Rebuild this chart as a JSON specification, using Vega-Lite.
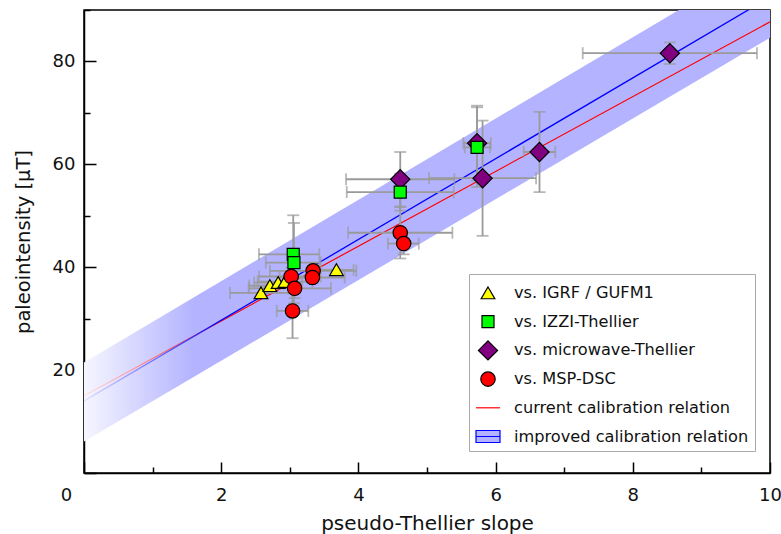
{
  "$schema": "https://vega.github.io/schema/vega-lite/v6.json",
  "width": 686,
  "height": 463,
  "autosize": {"type": "none"},
  "padding": {"left": 84, "top": 10, "right": 11, "bottom": 61},
  "background": "white",
  "config": {
    "font": "DejaVu Sans",
    "view": {"stroke": "black", "strokeWidth": 1.5},
    "axis": {
      "grid": false,
      "domainColor": "black",
      "domainWidth": 1.5,
      "tickColor": "black",
      "tickWidth": 1.5,
      "labelFont": "DejaVu Sans",
      "labelFontSize": 18,
      "labelColor": "#111111",
      "titleFont": "DejaVu Sans",
      "titleFontWeight": "normal",
      "titleColor": "#111111",
      "labelFlush": false,
      "labelOverlap": false,
      "labelBound": false
    },
    "legend": {
      "orient": "none",
      "legendX": 385,
      "legendY": 264,
      "padding": 6,
      "strokeColor": "#aaaaaa",
      "fillColor": "white",
      "labelFont": "DejaVu Sans",
      "labelFontSize": 16.2,
      "labelColor": "#111111",
      "labelLimit": 0,
      "symbolSize": 576,
      "symbolStrokeWidth": 1.2,
      "gridAlign": "all",
      "rowPadding": 3.7,
      "labelOffset": 13
    }
  },
  "datasets": {
    "pts": [
      {"series": "vs. IGRF / GUFM1", "x": 2.58, "y": 35.0, "xlo": 2.13, "xhi": 3.03, "ylo": 35.0, "yhi": 35.0},
      {"series": "vs. IGRF / GUFM1", "x": 2.71, "y": 36.4, "xlo": 2.41, "xhi": 3.01, "ylo": 36.4, "yhi": 36.4},
      {"series": "vs. IGRF / GUFM1", "x": 2.83, "y": 37.0, "xlo": 2.48, "xhi": 3.18, "ylo": 37.0, "yhi": 37.0},
      {"series": "vs. IGRF / GUFM1", "x": 2.93, "y": 37.2, "xlo": 2.53, "xhi": 3.33, "ylo": 37.2, "yhi": 37.2},
      {"series": "vs. IGRF / GUFM1", "x": 3.68, "y": 39.5, "xlo": 3.43, "xhi": 3.93, "ylo": 39.5, "yhi": 39.5},
      {"series": "vs. microwave-Thellier", "x": 8.54, "y": 81.6, "xlo": 7.27, "xhi": 9.81, "ylo": 79.5, "yhi": 83.7},
      {"series": "vs. microwave-Thellier", "x": 6.64, "y": 62.4, "xlo": 6.41, "xhi": 6.87, "ylo": 54.6, "yhi": 70.2},
      {"series": "vs. microwave-Thellier", "x": 5.81, "y": 57.3, "xlo": 5.03, "xhi": 6.59, "ylo": 46.1, "yhi": 68.5},
      {"series": "vs. microwave-Thellier", "x": 4.61, "y": 57.1, "xlo": 3.82, "xhi": 5.40, "ylo": 51.8, "yhi": 62.4},
      {"series": "vs. microwave-Thellier", "x": 5.73, "y": 64.1, "xlo": 5.53, "xhi": 5.93, "ylo": 56.8, "yhi": 71.4},
      {"series": "vs. IZZI-Thellier", "x": 3.05, "y": 42.5, "xlo": 2.55, "xhi": 3.43, "ylo": 34.9, "yhi": 50.1},
      {"series": "vs. IZZI-Thellier", "x": 3.06, "y": 40.9, "xlo": 2.65, "xhi": 3.45, "ylo": 33.0, "yhi": 48.6},
      {"series": "vs. IZZI-Thellier", "x": 4.61, "y": 54.6, "xlo": 3.83, "xhi": 5.39, "ylo": 51.0, "yhi": 58.2},
      {"series": "vs. IZZI-Thellier", "x": 5.73, "y": 63.3, "xlo": 5.55, "xhi": 5.92, "ylo": 55.6, "yhi": 71.1},
      {"series": "vs. MSP-DSC", "x": 4.61, "y": 46.7, "xlo": 3.85, "xhi": 5.37, "ylo": 41.7, "yhi": 51.7},
      {"series": "vs. MSP-DSC", "x": 4.66, "y": 44.6, "xlo": 4.43, "xhi": 4.88, "ylo": 42.5, "yhi": 46.7},
      {"series": "vs. MSP-DSC", "x": 3.34, "y": 39.3, "xlo": 2.71, "xhi": 3.97, "ylo": 38.3, "yhi": 40.3},
      {"series": "vs. MSP-DSC", "x": 3.33, "y": 38.0, "xlo": 2.85, "xhi": 3.80, "ylo": 37.0, "yhi": 39.0},
      {"series": "vs. MSP-DSC", "x": 3.02, "y": 38.2, "xlo": 2.55, "xhi": 3.45, "ylo": 36.5, "yhi": 39.9},
      {"series": "vs. MSP-DSC", "x": 3.07, "y": 35.9, "xlo": 2.40, "xhi": 3.60, "ylo": 34.0, "yhi": 37.8},
      {"series": "vs. MSP-DSC", "x": 3.04, "y": 31.5, "xlo": 2.81, "xhi": 3.27, "ylo": 26.2, "yhi": 36.8}
    ],
    "band": [
      {"x": 0, "lo": 6.1, "hi": 21.5},
      {"x": 10, "lo": 84.6, "hi": 100.5}
    ],
    "lines": [
      {"rel": "current", "x": 0, "y": 15.0},
      {"rel": "current", "x": 10, "y": 87.7},
      {"rel": "improved", "x": 0, "y": 14.0},
      {"rel": "improved", "x": 10, "y": 92.5}
    ]
  },
  "layer": [
    {
      "data": {"name": "band"},
      "mark": {
        "type": "area",
        "clip": true,
        "fill": {
          "gradient": "linear",
          "x1": 0, "y1": 0, "x2": 1, "y2": 0,
          "stops": [
            {"offset": 0, "color": "#f6f6ff"},
            {"offset": 0.16, "color": "#b3b3ff"},
            {"offset": 1, "color": "#b3b3ff"}
          ]
        }
      },
      "encoding": {
        "x": {
          "field": "x",
          "type": "quantitative",
          "title": "pseudo-Thellier slope",
          "scale": {"domain": [0, 10], "nice": false, "zero": false},
          "axis": {
            "title": "pseudo-Thellier slope",
            "titleFontSize": 20,
            "titlePadding": 4,
            "values": [0, 1, 2, 3, 4, 5, 6, 7, 8, 9, 10],
            "labelExpr": "datum.value % 2 === 0 ? '' + datum.value : ''",
            "tickSize": {"condition": {"test": "datum.value % 2 === 0", "value": -11}, "value": -6},
            "labelPadding": 24,
            "labelOffset": {"condition": {"test": "datum.value === 0", "value": -18}, "value": 0}
          }
        },
        "y": {
          "field": "lo",
          "type": "quantitative",
          "title": "paleointensity [µT]",
          "scale": {"domain": [0, 90], "nice": false, "zero": false},
          "axis": {
            "title": "paleointensity [µT]",
            "titleFontSize": 19.5,
            "titlePadding": 19,
            "values": [0, 10, 20, 30, 40, 50, 60, 70, 80, 90],
            "labelExpr": "datum.value % 20 === 0 && datum.value > 0 ? '' + datum.value : ''",
            "tickSize": {"condition": {"test": "datum.value % 20 === 0", "value": -12}, "value": -6},
            "labelPadding": 21
          }
        },
        "y2": {"field": "hi", "title": "paleointensity [µT]"}
      }
    },
    {
      "data": {"name": "lines"},
      "transform": [{"filter": "datum.rel === 'current'"}],
      "mark": {
        "type": "line",
        "clip": true,
        "strokeWidth": 1.2,
        "stroke": {
          "gradient": "linear",
          "x1": 0, "y1": 0, "x2": 1, "y2": 0,
          "stops": [
            {"offset": 0, "color": "#ffe0e0"},
            {"offset": 0.2, "color": "#ff0000"},
            {"offset": 1, "color": "#ff0000"}
          ]
        }
      },
      "encoding": {
        "x": {"field": "x", "type": "quantitative", "title": "pseudo-Thellier slope"},
        "y": {"field": "y", "type": "quantitative", "title": "paleointensity [µT]"}
      }
    },
    {
      "data": {"name": "lines"},
      "transform": [{"filter": "datum.rel === 'improved'"}],
      "mark": {
        "type": "line",
        "clip": true,
        "strokeWidth": 1.3,
        "stroke": {
          "gradient": "linear",
          "x1": 0, "y1": 0, "x2": 1, "y2": 0,
          "stops": [
            {"offset": 0, "color": "#e0e0ff"},
            {"offset": 0.2, "color": "#0000ff"},
            {"offset": 1, "color": "#0000ff"}
          ]
        }
      },
      "encoding": {
        "x": {"field": "x", "type": "quantitative", "title": "pseudo-Thellier slope"},
        "y": {"field": "y", "type": "quantitative", "title": "paleointensity [µT]"}
      }
    },
    {
      "data": {"name": "pts"},
      "mark": {"type": "errorbar", "ticks": true, "size": 12, "thickness": 1.8, "color": "#9a9a9a"},
      "encoding": {
        "x": {"field": "x", "type": "quantitative", "title": "pseudo-Thellier slope"},
        "y": {"field": "ylo", "type": "quantitative", "title": "paleointensity [µT]"},
        "y2": {"field": "yhi", "title": "paleointensity [µT]"}
      }
    },
    {
      "data": {"name": "pts"},
      "mark": {"type": "errorbar", "ticks": true, "size": 12, "thickness": 1.8, "color": "#9a9a9a"},
      "encoding": {
        "y": {"field": "y", "type": "quantitative", "title": "paleointensity [µT]"},
        "x": {"field": "xlo", "type": "quantitative", "title": "pseudo-Thellier slope"},
        "x2": {"field": "xhi", "title": "pseudo-Thellier slope"}
      }
    },
    {
      "data": {"name": "pts"},
      "mark": {"type": "point", "filled": true, "opacity": 1, "strokeWidth": 1.2, "size": 576},
      "encoding": {
        "x": {"field": "x", "type": "quantitative", "title": "pseudo-Thellier slope"},
        "y": {"field": "y", "type": "quantitative", "title": "paleointensity [µT]"},
        "shape": {
          "field": "series",
          "type": "nominal",
          "scale": {
            "domain": ["vs. IGRF / GUFM1", "vs. IZZI-Thellier", "vs. microwave-Thellier", "vs. MSP-DSC", "current calibration relation", "improved calibration relation"],
            "range": [
              "M0,-0.5L0.57,0.48L-0.57,0.48Z",
              "M-0.5,-0.5L0.5,-0.5L0.5,0.5L-0.5,0.5Z",
              "M0,-0.8L0.8,0L0,0.8L-0.8,0Z",
              "M-0.6,0A0.6,0.6,0,1,0,0.6,0A0.6,0.6,0,1,0,-0.6,0Z",
              "M-1,0L1,0",
              "M-1,-0.5L1,-0.5L1,0.5L-1,0.5ZM-1,0L1,0"
            ]
          },
          "legend": {"title": null}
        },
        "fill": {
          "field": "series",
          "type": "nominal",
          "scale": {
            "domain": ["vs. IGRF / GUFM1", "vs. IZZI-Thellier", "vs. microwave-Thellier", "vs. MSP-DSC", "current calibration relation", "improved calibration relation"],
            "range": ["#ffff00", "#00ff00", "#800080", "#ff0000", "transparent", "#b3b3ff"]
          },
          "legend": null
        },
        "stroke": {
          "field": "series",
          "type": "nominal",
          "scale": {
            "domain": ["vs. IGRF / GUFM1", "vs. IZZI-Thellier", "vs. microwave-Thellier", "vs. MSP-DSC", "current calibration relation", "improved calibration relation"],
            "range": ["#000000", "#000000", "#000000", "#000000", "#ff0000", "#0000ff"]
          },
          "legend": null
        }
      }
    }
  ]
}
